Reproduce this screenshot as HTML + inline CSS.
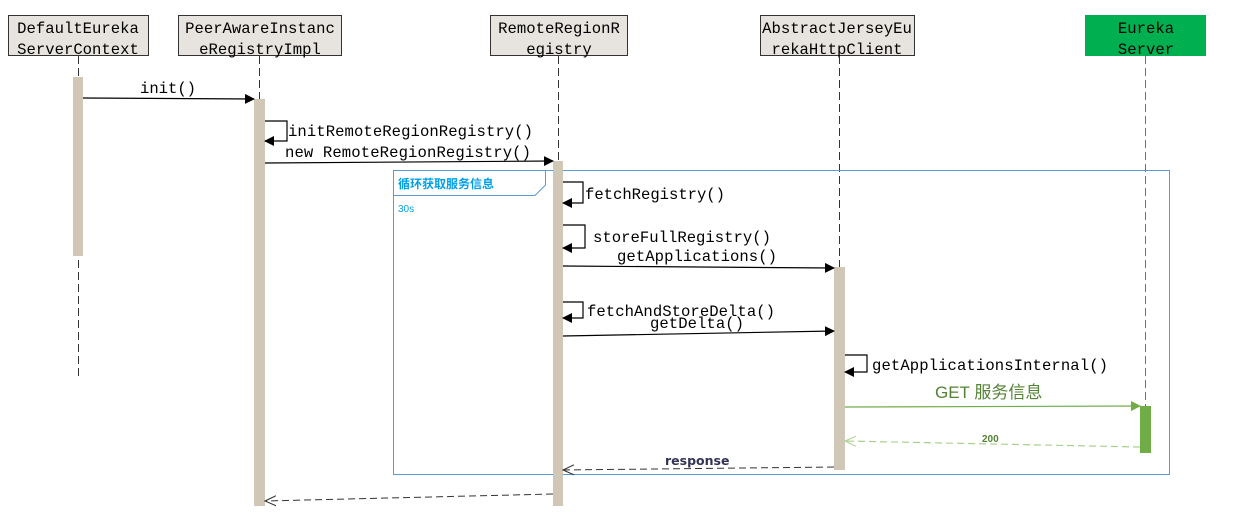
<!DOCTYPE html>
<html><head><meta charset="utf-8"><style>
html,body{margin:0;padding:0;background:#fff;}
svg{display:block;}
.m{font-family:"Liberation Mono",monospace;font-size:15.6px;fill:#000;}
</style></head><body>
<svg width="1237" height="519" viewBox="0 0 1237 519" xmlns="http://www.w3.org/2000/svg">
<defs>
<marker id="a" markerWidth="10" markerHeight="10" refX="9" refY="5" orient="auto" markerUnits="userSpaceOnUse"><path d="M0,0 L10,5 L0,10 z" fill="#000"/></marker>
<marker id="g" markerWidth="10" markerHeight="10" refX="9" refY="5" orient="auto" markerUnits="userSpaceOnUse"><path d="M0,0 L10,5 L0,10 z" fill="#70ad47"/></marker>
<marker id="o" markerWidth="12" markerHeight="12" refX="11" refY="6" orient="auto" markerUnits="userSpaceOnUse"><path d="M0,1 L11,6 L0,11" fill="none" stroke="#333" stroke-width="1"/></marker>
<marker id="og" markerWidth="12" markerHeight="12" refX="11" refY="6" orient="auto" markerUnits="userSpaceOnUse"><path d="M0,1 L11,6 L0,11" fill="none" stroke="#a9d18e" stroke-width="1"/></marker>
</defs>
<g stroke="#333" stroke-width="1" fill="#e7e3de">
<rect x="8.5" y="15.5" width="140" height="40"/>
<rect x="178.5" y="15.5" width="163" height="40"/>
<rect x="490.5" y="15.5" width="137" height="40"/>
<rect x="760.5" y="15.5" width="154" height="40"/>
</g>
<rect x="1085" y="15" width="121" height="41" fill="#00b050"/>
<g class="m" text-anchor="middle">
<text x="78" y="33">DefaultEureka</text><text x="78" y="54">ServerContext</text>
<text x="260" y="33">PeerAwareInstanc</text><text x="260" y="54">eRegistryImpl</text>
<text x="559" y="33">RemoteRegionR</text><text x="559" y="54">egistry</text>
<text x="837" y="33">AbstractJerseyEu</text><text x="837" y="54">rekaHttpClient</text>
<text x="1146" y="33">Eureka</text><text x="1146" y="54">Server</text>
</g>
<g stroke="#333" stroke-dasharray="8,4" stroke-width="1">
<line x1="78.5" y1="56" x2="78.5" y2="376"/>
<line x1="259.5" y1="56" x2="259.5" y2="100"/>
<line x1="558.5" y1="56" x2="558.5" y2="162"/>
<line x1="839.5" y1="56" x2="839.5" y2="268"/>
</g>
<line x1="1145.5" y1="56" x2="1145.5" y2="406" stroke="#00b050" stroke-dasharray="8,4"/>
<rect x="393.5" y="170.5" width="776" height="304" fill="none" stroke="#5b9bd5"/>
<path d="M393.5,195.5 H535 L545.5,185 V170.5" fill="none" stroke="#5b9bd5"/>
<text x="398" y="188" font-family="'Liberation Sans','Noto Sans CJK SC',sans-serif" font-size="12" font-weight="bold" fill="#00a0e9">循环获取服务信息</text>
<text x="398" y="212" font-family="'Liberation Sans',sans-serif" font-size="10" fill="#00a0e9">30s</text>
<g fill="#d0c7b6">
<rect x="73" y="77" width="10" height="179"/>
<rect x="254" y="99" width="11" height="407"/>
<rect x="553" y="161" width="10" height="345"/>
<rect x="834" y="267" width="11" height="203"/>
</g>
<rect x="1140" y="406" width="11" height="47" fill="#70ad47"/>
<g stroke="#000" stroke-width="1.2" fill="none">
<line x1="83" y1="98" x2="254" y2="99" marker-end="url(#a)"/>
<path d="M265,121 H287 V141 H265" marker-end="url(#a)"/>
<line x1="265" y1="163" x2="553" y2="161" marker-end="url(#a)"/>
<path d="M563,182 H583 V203 H563" marker-end="url(#a)"/>
<path d="M563,225 H585 V248 H563" marker-end="url(#a)"/>
<line x1="563" y1="266" x2="834" y2="268" marker-end="url(#a)"/>
<path d="M563,302 H583 V318 H563" marker-end="url(#a)"/>
<line x1="563" y1="336" x2="834" y2="331" marker-end="url(#a)"/>
<path d="M845,355 H867 V372 H845" marker-end="url(#a)"/>
</g>
<line x1="845" y1="407" x2="1140" y2="406" stroke="#70ad47" stroke-width="1.2" marker-end="url(#g)"/>
<line x1="1140" y1="447" x2="845" y2="441" stroke="#a9d18e" stroke-width="1.2" stroke-dasharray="7,4" marker-end="url(#og)"/>
<line x1="834" y1="467" x2="563" y2="470" stroke="#333" stroke-width="1" stroke-dasharray="7,4" marker-end="url(#o)"/>
<line x1="553" y1="494" x2="265" y2="501" stroke="#333" stroke-width="1" stroke-dasharray="7,4" marker-end="url(#o)"/>
<g class="m">
<text x="140" y="93" textLength="56">init()</text>
<text x="288" y="136" textLength="245">initRemoteRegionRegistry()</text>
<text x="285" y="157" textLength="246">new RemoteRegionRegistry()</text>
<text x="585" y="199" textLength="140">fetchRegistry()</text>
<text x="593" y="242" textLength="178">storeFullRegistry()</text>
<text x="617" y="261" textLength="160">getApplications()</text>
<text x="587" y="316" textLength="188">fetchAndStoreDelta()</text>
<text x="650" y="328" textLength="94">getDelta()</text>
<text x="872" y="370" textLength="236">getApplicationsInternal()</text>
</g>
<text x="935" y="398" font-family="'Liberation Sans','Noto Sans CJK SC',sans-serif" font-size="17" fill="#548235">GET 服务信息</text>
<text x="982" y="442" font-family="'Liberation Sans',sans-serif" font-size="10" font-weight="bold" fill="#548235">200</text>
<rect x="662" y="452" width="70" height="14" fill="#fff"/>
<text x="665" y="465" font-family="'DejaVu Sans',sans-serif" font-size="12.5" font-weight="bold" fill="#333355">response</text>
</svg>
</body></html>
